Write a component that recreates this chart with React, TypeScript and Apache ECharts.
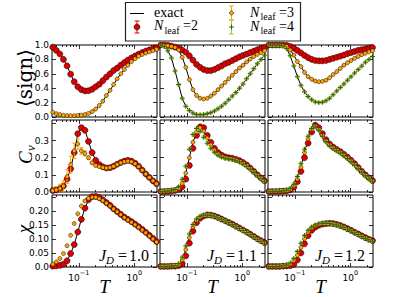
import React, { useEffect, useRef } from "react";
import * as echarts from "echarts";

// Temperature grid (log-spaced), shared by every panel
const T = [0.034, 0.0394, 0.0457, 0.053, 0.0615, 0.0714, 0.0828, 0.096, 0.1113, 0.1291, 0.1497, 0.1736, 0.2014, 0.2335, 0.2708, 0.3141, 0.3643, 0.4224, 0.4899, 0.5682, 0.6589, 0.7642, 0.8862, 1.0278, 1.1919, 1.3823, 1.6031, 1.8591, 2.156, 2.5004];

// <sign>
const signRed1 = [0.97, 0.925, 0.875, 0.8, 0.71, 0.595, 0.49, 0.42, 0.38, 0.362, 0.365, 0.385, 0.42, 0.455, 0.505, 0.555, 0.6, 0.645, 0.68, 0.72, 0.755, 0.79, 0.82, 0.848, 0.872, 0.895, 0.915, 0.932, 0.948, 0.96];
const signOrange1 = [0.065, 0.045, 0.035, 0.025, 0.02, 0.018, 0.018, 0.02, 0.025, 0.035, 0.05, 0.075, 0.11, 0.16, 0.22, 0.3, 0.37, 0.45, 0.53, 0.6, 0.66, 0.72, 0.77, 0.81, 0.845, 0.868, 0.888, 0.905, 0.922, 0.94];
const signRed2 = [1.0, 1.0, 0.995, 0.985, 0.97, 0.955, 0.93, 0.9, 0.85, 0.79, 0.73, 0.69, 0.66, 0.645, 0.645, 0.66, 0.685, 0.71, 0.74, 0.76, 0.785, 0.81, 0.835, 0.855, 0.875, 0.895, 0.915, 0.935, 0.95, 0.965];
const signOrange2 = [1.0, 0.995, 0.99, 0.98, 0.965, 0.93, 0.83, 0.69, 0.52, 0.38, 0.3, 0.26, 0.25, 0.26, 0.29, 0.33, 0.38, 0.43, 0.48, 0.53, 0.58, 0.63, 0.68, 0.72, 0.765, 0.805, 0.84, 0.87, 0.895, 0.92];
const signGreen2 = [1.0, 0.98, 0.92, 0.82, 0.64, 0.45, 0.26, 0.15, 0.09, 0.055, 0.035, 0.03, 0.035, 0.045, 0.06, 0.085, 0.115, 0.15, 0.19, 0.24, 0.29, 0.34, 0.4, 0.46, 0.53, 0.6, 0.67, 0.74, 0.8, 0.86];
const signRed3 = [1.0, 1.0, 1.0, 1.0, 1.0, 0.995, 0.98, 0.955, 0.925, 0.89, 0.855, 0.825, 0.8, 0.785, 0.78, 0.78, 0.785, 0.8, 0.815, 0.83, 0.845, 0.86, 0.88, 0.895, 0.91, 0.925, 0.935, 0.945, 0.955, 0.965];
const signOrange3 = [1.0, 1.0, 1.0, 1.0, 0.995, 0.98, 0.93, 0.86, 0.77, 0.7, 0.62, 0.56, 0.525, 0.5, 0.49, 0.495, 0.51, 0.545, 0.59, 0.63, 0.675, 0.72, 0.755, 0.785, 0.815, 0.84, 0.865, 0.885, 0.905, 0.92];
const signGreen3 = [1.0, 1.0, 1.0, 0.995, 0.985, 0.95, 0.85, 0.71, 0.56, 0.44, 0.35, 0.285, 0.24, 0.21, 0.2, 0.205, 0.225, 0.26, 0.31, 0.36, 0.41, 0.46, 0.51, 0.56, 0.61, 0.66, 0.71, 0.76, 0.8, 0.84];

// C_v
const cvRed1 = [0.008, 0.012, 0.02, 0.035, 0.075, 0.135, 0.23, 0.34, 0.375, 0.36, 0.295, 0.23, 0.185, 0.16, 0.147, 0.14, 0.142, 0.15, 0.162, 0.172, 0.18, 0.185, 0.18, 0.168, 0.15, 0.128, 0.105, 0.085, 0.065, 0.048];
const cvOrange1 = [0.008, 0.012, 0.02, 0.035, 0.09, 0.16, 0.24, 0.28, 0.24, 0.225, 0.2, 0.17, 0.155, 0.148, 0.143, 0.14, 0.143, 0.15, 0.16, 0.17, 0.177, 0.18, 0.176, 0.165, 0.148, 0.127, 0.105, 0.085, 0.065, 0.048];
const cvOrangeErr1 = [0.01, 0.02, 0.025, 0.03, 0.04, 0.05, 0.045, 0.03, 0.02, 0.015, 0.01, 0.008, 0.005, 0.004, 0.003, 0.003, 0.003, 0.003, 0.003, 0.003, 0.003, 0.003, 0.003, 0.003, 0.003, 0.003, 0.003, 0.003, 0.003, 0.003];
const cvRed2 = [0.002, 0.003, 0.004, 0.006, 0.009, 0.015, 0.03, 0.075, 0.155, 0.255, 0.33, 0.38, 0.375, 0.33, 0.29, 0.255, 0.23, 0.215, 0.205, 0.2, 0.197, 0.19, 0.183, 0.172, 0.158, 0.14, 0.12, 0.1, 0.082, 0.065];
const cvOrange2 = [0.002, 0.003, 0.004, 0.006, 0.01, 0.02, 0.05, 0.11, 0.2, 0.29, 0.35, 0.375, 0.355, 0.315, 0.275, 0.245, 0.222, 0.208, 0.2, 0.196, 0.192, 0.186, 0.178, 0.167, 0.153, 0.136, 0.117, 0.098, 0.08, 0.063];
const cvGreen2 = [0.002, 0.003, 0.005, 0.008, 0.014, 0.03, 0.075, 0.15, 0.25, 0.335, 0.37, 0.355, 0.32, 0.285, 0.255, 0.232, 0.214, 0.204, 0.197, 0.193, 0.189, 0.183, 0.175, 0.164, 0.15, 0.133, 0.114, 0.095, 0.078, 0.061];
const cvRed3 = [0.002, 0.003, 0.003, 0.004, 0.005, 0.007, 0.012, 0.028, 0.06, 0.12, 0.2, 0.285, 0.35, 0.39, 0.375, 0.34, 0.305, 0.28, 0.262, 0.248, 0.235, 0.22, 0.203, 0.185, 0.165, 0.143, 0.12, 0.1, 0.082, 0.066];
const cvOrange3 = [0.002, 0.003, 0.003, 0.004, 0.005, 0.008, 0.016, 0.036, 0.075, 0.145, 0.23, 0.31, 0.365, 0.385, 0.365, 0.33, 0.298, 0.274, 0.257, 0.243, 0.23, 0.215, 0.198, 0.18, 0.16, 0.139, 0.117, 0.097, 0.08, 0.064];
const cvGreen3 = [0.002, 0.003, 0.004, 0.005, 0.006, 0.01, 0.02, 0.045, 0.09, 0.165, 0.25, 0.325, 0.37, 0.38, 0.36, 0.325, 0.293, 0.27, 0.253, 0.24, 0.227, 0.212, 0.195, 0.177, 0.157, 0.136, 0.115, 0.095, 0.078, 0.062];

// chi
const chiRed1 = [0.003, 0.004, 0.006, 0.01, 0.022, 0.048, 0.08, 0.125, 0.17, 0.21, 0.24, 0.251, 0.252, 0.248, 0.24, 0.23, 0.22, 0.208, 0.198, 0.188, 0.178, 0.17, 0.162, 0.153, 0.144, 0.134, 0.124, 0.113, 0.102, 0.091];
const chiOrange1 = [0.01, 0.018, 0.03, 0.048, 0.076, 0.113, 0.155, 0.19, 0.218, 0.236, 0.245, 0.249, 0.249, 0.244, 0.237, 0.228, 0.218, 0.207, 0.197, 0.187, 0.177, 0.168, 0.16, 0.151, 0.142, 0.132, 0.122, 0.111, 0.1, 0.089];
const chiRed2 = [0.002, 0.002, 0.002, 0.003, 0.003, 0.005, 0.012, 0.04, 0.085, 0.128, 0.158, 0.174, 0.182, 0.186, 0.185, 0.182, 0.177, 0.171, 0.165, 0.159, 0.153, 0.146, 0.139, 0.132, 0.125, 0.117, 0.109, 0.101, 0.094, 0.087];
const chiOrange2 = [0.002, 0.002, 0.002, 0.003, 0.004, 0.008, 0.025, 0.062, 0.105, 0.143, 0.166, 0.178, 0.184, 0.186, 0.185, 0.182, 0.177, 0.171, 0.165, 0.159, 0.152, 0.145, 0.138, 0.131, 0.124, 0.116, 0.108, 0.1, 0.093, 0.086];
const chiGreen2 = [0.002, 0.002, 0.003, 0.003, 0.005, 0.012, 0.035, 0.075, 0.118, 0.152, 0.171, 0.181, 0.185, 0.186, 0.184, 0.181, 0.176, 0.17, 0.164, 0.158, 0.151, 0.144, 0.137, 0.13, 0.123, 0.115, 0.107, 0.099, 0.092, 0.085];
const chiRed3 = [0.002, 0.002, 0.002, 0.002, 0.003, 0.004, 0.005, 0.009, 0.025, 0.05, 0.083, 0.112, 0.131, 0.142, 0.149, 0.153, 0.155, 0.156, 0.155, 0.152, 0.148, 0.143, 0.137, 0.131, 0.124, 0.118, 0.111, 0.105, 0.099, 0.094];
const chiOrange3 = [0.002, 0.002, 0.002, 0.002, 0.003, 0.005, 0.01, 0.022, 0.042, 0.07, 0.1, 0.124, 0.139, 0.148, 0.153, 0.155, 0.156, 0.156, 0.154, 0.151, 0.147, 0.142, 0.136, 0.13, 0.123, 0.117, 0.11, 0.104, 0.098, 0.093];
const chiGreen3 = [0.002, 0.002, 0.002, 0.003, 0.004, 0.007, 0.014, 0.03, 0.055, 0.085, 0.112, 0.131, 0.143, 0.15, 0.154, 0.156, 0.156, 0.155, 0.153, 0.15, 0.146, 0.141, 0.135, 0.129, 0.122, 0.116, 0.109, 0.103, 0.097, 0.092];

// estimated error-bar half widths of the N_leaf=4 points per row
const greenErrSign = 0.015;
const greenErrCv = 0.008;
const greenErrChi = 0.004;

// ticks
const xTickMajor = [0.1, 1];
const xTickMinor = [0.04, 0.05, 0.06, 0.07, 0.08, 0.09, 0.2, 0.3, 0.4, 0.5, 0.6, 0.7, 0.8, 0.9, 2];
const signTicks = [0, 0.2, 0.4, 0.6, 0.8, 1.0];
const cvTicks = [0, 0.1, 0.2, 0.3, 0.4];
const cvLabels = [0, 0.1, 0.2, 0.3];
const chiTicks = [0, 0.05, 0.1, 0.15, 0.2, 0.25];
const chiLabels = [0, 0.05, 0.1, 0.15, 0.2];
const jdLabels = ["1.0", "1.1", "1.2"];
const legendLabels = ["2", "3", "4"];

const RED = "#dd0000";
const ORANGE = "#ffa500";
const GREEN_BAR = "#9acd32";
const GREEN_MK = "#3d5c0a";
const SERIF = '"Liberation Serif", "DejaVu Serif", serif';
const SANS = '"DejaVu Sans", sans-serif';
const PLUS = "path://M4,0H6V4H10V6H6V10H4V6H0V4H4Z";

const COL_LEFT = [52, 160, 268];
const ROW_TOP = [45, 120, 195];
const PW = 105;
const PH = 72;
const X_MIN = 0.033;
const X_MAX = 2.55;

type Panel = {
  exact: number[][];
  red: number[];
  orange: number[];
  orangeErr?: number[];
  green?: number[];
  greenErr?: number;
};

const panels: Panel[][] = [
  [
    { exact: [signRed1, signOrange1], red: signRed1, orange: signOrange1 },
    { exact: [signRed2, signOrange2, signGreen2], red: signRed2, orange: signOrange2, green: signGreen2, greenErr: greenErrSign },
    { exact: [signRed3, signOrange3, signGreen3], red: signRed3, orange: signOrange3, green: signGreen3, greenErr: greenErrSign },
  ],
  [
    { exact: [cvRed1], red: cvRed1, orange: cvOrange1, orangeErr: cvOrangeErr1 },
    { exact: [cvOrange2], red: cvRed2, orange: cvOrange2, green: cvGreen2, greenErr: greenErrCv },
    { exact: [cvOrange3], red: cvRed3, orange: cvOrange3, green: cvGreen3, greenErr: greenErrCv },
  ],
  [
    { exact: [chiRed1], red: chiRed1, orange: chiOrange1 },
    { exact: [chiOrange2], red: chiRed2, orange: chiOrange2, green: chiGreen2, greenErr: greenErrChi },
    { exact: [chiOrange3], red: chiRed3, orange: chiOrange3, green: chiGreen3, greenErr: greenErrChi },
  ],
];

const rowY = [
  { max: 1.0, ticks: signTicks, labels: signTicks, fmt: (v: number) => v.toFixed(1) },
  { max: 0.42, ticks: cvTicks, labels: cvLabels, fmt: (v: number) => v.toFixed(1) },
  { max: 0.257, ticks: chiTicks, labels: chiLabels, fmt: (v: number) => (v === 0 ? "0.0" : v.toFixed(2)) },
];

function errSeries(data: number[][], color: string, xi: number, yi: number, z: number) {
  return {
    type: "custom",
    xAxisIndex: xi,
    yAxisIndex: yi,
    z,
    silent: true,
    clip: true,
    data,
    encode: { x: 0, y: 1 },
    renderItem: (_params: any, api: any) => {
      const x = api.value(0);
      const y = api.value(1);
      const e = api.value(2);
      const lo = api.coord([x, y - e]);
      const hi = api.coord([x, y + e]);
      const cw = 2;
      const st = { stroke: color, lineWidth: 1 };
      return {
        type: "group",
        children: [
          { type: "line", shape: { x1: lo[0], y1: lo[1], x2: hi[0], y2: hi[1] }, style: st },
          { type: "line", shape: { x1: lo[0] - cw, y1: lo[1], x2: lo[0] + cw, y2: lo[1] }, style: st },
          { type: "line", shape: { x1: hi[0] - cw, y1: hi[1], x2: hi[0] + cw, y2: hi[1] }, style: st },
        ],
      };
    },
  };
}

function buildOption() {
  const grids: any[] = [];
  const xAxes: any[] = [];
  const yAxes: any[] = [];
  const series: any[] = [];
  const tickLine = { color: "#000", width: 0.8 };

  panels.forEach((row, r) => {
    row.forEach((p, c) => {
      const g = grids.length;
      grids.push({
        left: COL_LEFT[c], top: ROW_TOP[r], width: PW, height: PH,
        show: true, borderColor: "#000", borderWidth: 1, backgroundColor: "transparent",
      });
      const baseX = {
        type: "log", logBase: 10, min: X_MIN, max: X_MAX, gridIndex: g,
        axisLine: { show: false, onZero: false }, splitLine: { show: false },
      };
      const xi = xAxes.length;
      xAxes.push({
        ...baseX, position: "bottom",
        axisTick: { show: true, inside: true, length: 4, customValues: xTickMajor, lineStyle: tickLine },
        axisLabel: {
          show: r === 2, customValues: xTickMajor, margin: 2, color: "#000",
          formatter: (v: number) => (v < 0.5 ? "{b|10}{s|−1}" : "{b|10}{s|0}"),
          rich: {
            b: { fontSize: 9, fontFamily: SANS, color: "#000", lineHeight: 13, verticalAlign: "bottom" },
            s: { fontSize: 6.5, fontFamily: SANS, color: "#000", lineHeight: 7, verticalAlign: "top" },
          },
        },
      });
      xAxes.push({ ...baseX, position: "top", axisTick: { show: true, inside: true, length: 4, customValues: xTickMajor, lineStyle: tickLine }, axisLabel: { show: false } });
      xAxes.push({ ...baseX, position: "bottom", axisTick: { show: true, inside: true, length: 2, customValues: xTickMinor, lineStyle: tickLine }, axisLabel: { show: false } });
      xAxes.push({ ...baseX, position: "top", axisTick: { show: true, inside: true, length: 2, customValues: xTickMinor, lineStyle: tickLine }, axisLabel: { show: false } });

      const ry = rowY[r];
      const baseY = {
        type: "value", min: 0, max: ry.max, gridIndex: g,
        axisLine: { show: false, onZero: false }, splitLine: { show: false },
      };
      const yi = yAxes.length;
      yAxes.push({
        ...baseY, position: "left",
        axisTick: { show: true, inside: true, length: 4, customValues: ry.ticks, lineStyle: tickLine },
        axisLabel: { show: c === 0, customValues: ry.labels, formatter: ry.fmt, margin: 3, fontSize: 9, fontFamily: SANS, color: "#000" },
      });
      yAxes.push({
        ...baseY, position: "right",
        axisTick: { show: true, inside: true, length: 4, customValues: ry.ticks, lineStyle: tickLine },
        axisLabel: { show: false },
      });

      const xy = (ys: number[]) => T.map((t, i) => [t, ys[i]]);

      p.exact.forEach((arr) => {
        series.push({
          type: "line", xAxisIndex: xi, yAxisIndex: yi, data: xy(arr), symbol: "none",
          lineStyle: { color: "#000", width: 1 }, z: 2, silent: true,
        });
      });
      series.push({
        type: "scatter", xAxisIndex: xi, yAxisIndex: yi, data: xy(p.red), symbol: "circle", symbolSize: 6,
        itemStyle: { color: RED, borderColor: "#000", borderWidth: 0.5, opacity: 1 }, z: 3, silent: true,
      });
      if (p.orangeErr) {
        series.push(errSeries(T.map((t, i) => [t, p.orange[i], p.orangeErr![i]]), ORANGE, xi, yi, 4));
      }
      series.push({
        type: "scatter", xAxisIndex: xi, yAxisIndex: yi, data: xy(p.orange), symbol: "circle", symbolSize: 4,
        itemStyle: { color: ORANGE, borderColor: "#000", borderWidth: 0.5, opacity: 1 }, z: 5, silent: true,
      });
      if (p.green) {
        series.push(errSeries(T.map((t, i) => [t, p.green![i], p.greenErr || 0]), GREEN_BAR, xi, yi, 6));
        series.push({
          type: "scatter", xAxisIndex: xi, yAxisIndex: yi, data: xy(p.green), symbol: PLUS, symbolSize: 5,
          itemStyle: { color: GREEN_MK, opacity: 1 }, z: 7, silent: true,
        });
      }
    });
  });

  const graphics: any[] = [];
  const txt = (x: number, y: number, text: string, size: number, italic = false, extra: any = {}) => ({
    type: "text", x, y, silent: true,
    style: { text, fontSize: size, lineHeight: Math.round(size * 0.85), fontFamily: SERIF, fontStyle: italic ? "italic" : "normal", fill: "#000", align: "left", verticalAlign: "middle", ...extra },
  });

  // legend
  graphics.push({ type: "rect", shape: { x: 125.5, y: 2.5, width: 175, height: 38.5 }, style: { fill: "#fff", stroke: "#222", lineWidth: 1.2 }, silent: true });
  graphics.push({ type: "line", shape: { x1: 130, y1: 13.5, x2: 144, y2: 13.5 }, style: { stroke: "#000", lineWidth: 1 }, silent: true });
  graphics.push(txt(154, 12, "exact", 14));
  const legendMarks = [
    { cx: 137, cy: 27, y0: 21, y1: 33, bar: RED, kind: "red" },
    { cx: 231.5, cy: 13, y0: 6, y1: 20, bar: ORANGE, kind: "orange" },
    { cx: 231.5, cy: 27, y0: 20, y1: 34, bar: GREEN_BAR, kind: "green" },
  ];
  legendMarks.forEach((m) => {
    const st = { stroke: m.bar, lineWidth: 1 };
    graphics.push({ type: "line", shape: { x1: m.cx, y1: m.y0, x2: m.cx, y2: m.y1 }, style: st, silent: true });
    graphics.push({ type: "line", shape: { x1: m.cx - 2.5, y1: m.y0, x2: m.cx + 2.5, y2: m.y0 }, style: st, silent: true });
    graphics.push({ type: "line", shape: { x1: m.cx - 2.5, y1: m.y1, x2: m.cx + 2.5, y2: m.y1 }, style: st, silent: true });
    if (m.kind === "red") graphics.push({ type: "circle", shape: { cx: m.cx, cy: m.cy, r: 3 }, style: { fill: RED, stroke: "#000", lineWidth: 0.5 }, silent: true });
    if (m.kind === "orange") graphics.push({ type: "circle", shape: { cx: m.cx, cy: m.cy, r: 2 }, style: { fill: ORANGE, stroke: "#000", lineWidth: 0.5 }, silent: true });
    if (m.kind === "green") {
      graphics.push({ type: "line", shape: { x1: m.cx - 2.5, y1: m.cy, x2: m.cx + 2.5, y2: m.cy }, style: { stroke: GREEN_MK, lineWidth: 1 }, silent: true });
      graphics.push({ type: "line", shape: { x1: m.cx, y1: m.cy - 2.5, x2: m.cx, y2: m.cy + 2.5 }, style: { stroke: GREEN_MK, lineWidth: 1 }, silent: true });
    }
  });
  const legendText = [
    { x: 154, y: 25.5, n: legendLabels[0] },
    { x: 250, y: 12, n: legendLabels[1] },
    { x: 250, y: 26, n: legendLabels[2] },
  ];
  legendText.forEach((l) => {
    graphics.push(txt(l.x, l.y, "N", 14, true));
    graphics.push(txt(l.x + 10.5, l.y + 4.5, "leaf", 10));
    graphics.push(txt(l.x + 29, l.y, "=" + l.n, 14));
  });

  // y titles (rotated)
  graphics.push({ type: "group", x: 25, y: 78, rotation: Math.PI / 2, silent: true, children: [
    { type: "text", style: { text: "⟨sign⟩", fontSize: 20, fontFamily: '"DejaVu Serif", serif', fill: "#000", align: "center", verticalAlign: "middle" } },
  ] });
  graphics.push({ type: "group", x: 25, y: 154, rotation: Math.PI / 2, silent: true, children: [
    { type: "text", x: -10, y: 0, style: { text: "C", fontSize: 19, fontStyle: "italic", fontFamily: SERIF, fill: "#000", align: "left", verticalAlign: "middle" } },
    { type: "text", x: 3, y: 5, style: { text: "v", fontSize: 13, fontStyle: "italic", fontFamily: SERIF, fill: "#000", align: "left", verticalAlign: "middle" } },
  ] });
  graphics.push({ type: "group", x: 23, y: 229, rotation: Math.PI / 2, silent: true, children: [
    { type: "text", style: { text: "χ", fontSize: 19, fontStyle: "italic", fontFamily: SERIF, fill: "#000", align: "center", verticalAlign: "middle" } },
  ] });

  // x titles and J_D labels
  COL_LEFT.forEach((L, c) => {
    graphics.push(txt(L + PW / 2, 286, "T", 19, true, { align: "center" }));
    graphics.push(txt(L + 47, 255.5, "J", 16, true));
    graphics.push(txt(L + 54, 259.5, "D", 11, true));
    graphics.push(txt(L + 66, 255, "=", 16));
    graphics.push(txt(L + 77, 255, jdLabels[c], 16));
  });

  return {
    animation: false,
    backgroundColor: "#fff",
    grid: grids,
    xAxis: xAxes,
    yAxis: yAxes,
    series,
    graphic: graphics,
  };
}

export default function App() {
  const ref = useRef<HTMLDivElement>(null);
  useEffect(() => {
    document.body.style.margin = "0";
    if (!ref.current) return;
    const chart = echarts.init(ref.current, null, { renderer: "svg" });
    chart.setOption(buildOption() as any);
    return () => chart.dispose();
  }, []);
  return <div ref={ref} style={{ width: 415, height: 297 }} />;
}
